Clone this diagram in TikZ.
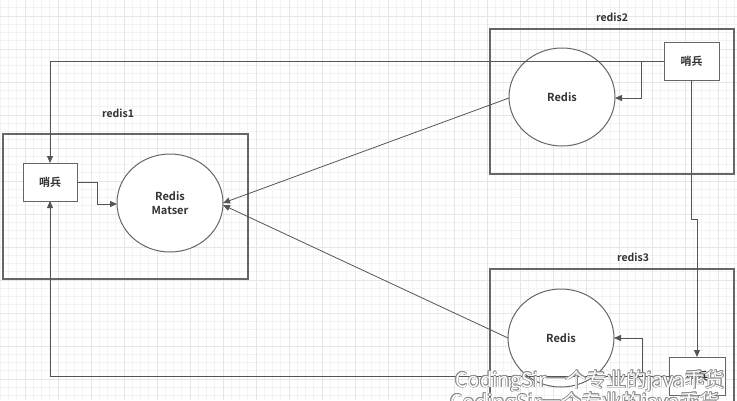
\documentclass[tikz,border=0pt]{standalone}
\usepackage{fontspec}
\setmainfont{Noto Sans CJK SC}[BoldFont={Noto Sans CJK SC Bold}]
\usetikzlibrary{arrows.meta,shapes.geometric}
\definecolor{minorgrid}{HTML}{F3F3F3}
\definecolor{majorgrid}{HTML}{E6E6E6}
\definecolor{edgegray}{HTML}{666666}
\definecolor{linegray}{HTML}{555555}
\definecolor{txt}{HTML}{333333}
\begin{document}
\begin{tikzpicture}[x=1pt,y=-1pt,
  groupbox/.style={draw=edgegray, line width=1.2pt, inner sep=0pt, outer sep=0pt, anchor=north west},
  grouplabel/.style={font=\bfseries\fontsize{10.5}{12}\selectfont, text=txt},
  sentinel/.style={draw=edgegray, line width=1pt, fill=white, minimum width=55pt, minimum height=38pt, inner sep=0pt, outer sep=0pt, font=\bfseries\fontsize{11}{12}\selectfont, text=txt},
  redisnode/.style={ellipse, draw=edgegray, line width=1pt, fill=white, minimum width=106pt, minimum height=98pt, inner sep=0pt, outer sep=0pt, align=center, font=\bfseries\fontsize{11}{14}\selectfont, text=txt},
  conn/.style={draw=linegray, line width=0.8pt, -{Triangle[length=7pt,width=6pt]}},
  wmark/.style={font=\fontsize{20}{22}\selectfont, anchor=base west, inner sep=0pt}
]
\useasboundingbox (0,0) rectangle (737,400);
\begin{scope}
\clip (0,0) rectangle (737,400);
\fill[white] (0,0) rectangle (737,400);
% grid
\foreach \i in {0,...,90} \draw[minorgrid, line width=0.6pt] (0.25+8.25*\i,0) -- (0.25+8.25*\i,400);
\foreach \i in {-1,...,48} \draw[minorgrid, line width=0.6pt] (0,7.75+8.25*\i) -- (737,7.75+8.25*\i);
\foreach \i in {0,...,22} \draw[majorgrid, line width=0.6pt] (25+33*\i-33,0) -- (25+33*\i-33,400);
\foreach \i in {0,...,12} \draw[majorgrid, line width=0.6pt] (0,16+33*\i) -- (737,16+33*\i);

% group boxes
\node[groupbox, minimum width=245pt, minimum height=145pt] (r1) at (3,134) {};
\node[groupbox, minimum width=244pt, minimum height=145pt] (r2) at (490,29) {};
\node[groupbox, minimum width=244pt, minimum height=150pt] (r3) at (490,269) {};
\node[grouplabel] (l1) at (118,113) {redis1};
\node[grouplabel] (l2) at (612,17) {redis2};
\node[grouplabel] (l3) at (633,257) {redis3};

% sentinels
\node[sentinel, minimum width=54pt] (s1) at (50,182) {哨兵};
\node[sentinel] (s2) at (691.5,61) {哨兵};
\node[sentinel, minimum width=56pt] (s3) at (697,376) {哨兵};

% redis nodes
\node[redisnode] (e1) at (170,203) {Redis\\Matser};
\node[redisnode] (e2) at (562,97) {Redis};
\node[redisnode] (e3) at (561,338) {Redis};

% helper coordinates
\coordinate (b2) at (641,61);
\coordinate (b3) at (642,376);
\coordinate (j) at (697,219);
\coordinate (m1) at (97,182);

% connectors
\draw[conn] (s2.west) -| (s1.north);
\draw[conn] (b2) |- ([yshift=-1pt]e2.east);
\draw[conn] (s1.east) -- (m1) |- ([yshift=-1pt]e1.west);
\draw[conn] (s3.west) -| (s1.south);
\draw[conn] (b3) |- (e3.east);
\draw[conn] (s2.south) |- (j) -- (s3.north);
\draw[conn] ([yshift=-1pt]e2.west) -- (e1.east);
\draw[conn] (e3.west) -- ([yshift=-2pt]e1.east);

% watermark
\foreach \dx/\dy in {0.6/0,-0.6/0,0/0.6,0/-0.6,0.45/0.45,-0.45/0.45,0.45/-0.45,-0.45/-0.45}{
  \node[wmark, text=black!45] (wa) at (455+\dx,387+\dy) {CodingSir一个专业的java乖货};
  \node[wmark, text=black!45] (wb) at (450+\dx,409+\dy) {CodingSir一个专业的java乖货};
}
\node[wmark, text=white] (wa) at (455,387) {CodingSir一个专业的java乖货};
\node[wmark, text=white] (wb) at (450,409) {CodingSir一个专业的java乖货};
\end{scope}
\end{tikzpicture}
\end{document}
